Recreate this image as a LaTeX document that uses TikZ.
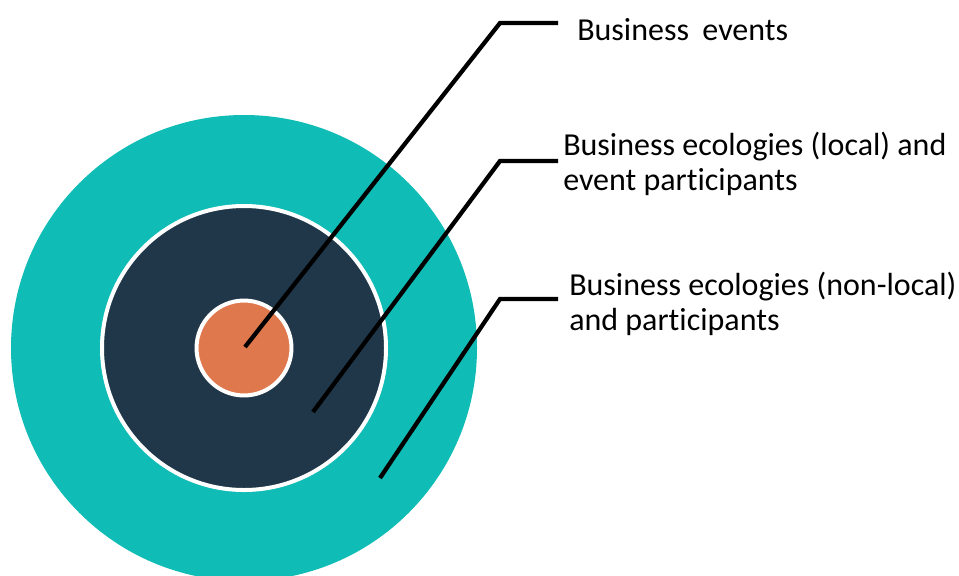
\documentclass[tikz,border=0pt]{standalone}
\usepackage{fontspec}
\setmainfont{Carlito}[Ligatures=NoCommon]
\definecolor{ringteal}{RGB}{15,188,182}
\definecolor{ringnavy}{RGB}{31,55,73}
\definecolor{ringorange}{RGB}{224,120,77}
\tikzset{
  leader/.style={line width=3.2pt, black, line join=miter},
  lbl/.style={anchor=base west, inner sep=0pt, font=\fontsize{24}{26.25}\selectfont, align=left},
}
\begin{document}
\begin{tikzpicture}[x=0.75pt, y=-0.75pt]
\useasboundingbox (0,0) rectangle (959,575);
\clip (0,0) rectangle (959,575);
\coordinate (c) at (244,348);
\fill[ringteal] (c) circle[radius=174.75pt];
\fill[ringnavy, draw=white, line width=3pt] (c) circle[radius=106.5pt];
\fill[ringorange, draw=white, line width=3pt] (c) circle[radius=35.6pt];
% endpoints, elbows, ends
\coordinate (p1) at (245,347);
\coordinate (e1) at (500,23);
\coordinate (h1) at (558,23);
\coordinate (p2) at (313,412);
\coordinate (e2) at (500,161);
\coordinate (h2) at (558,161);
\coordinate (p3) at (380,478);
\coordinate (e3) at (500,299);
\coordinate (h3) at (558,299);
\draw[leader] (p1) -- (e1) -- (h1);
\draw[leader] (p2) -- (e2) -- (h2);
\draw[leader] (p3) -- (e3) -- (h3);
\node[lbl] (t1) at (577,40) {Business\hspace{0.42em}events};
\node[lbl] (t2) at (563,190) {Business ecologies (local) and\\event participants};
\node[lbl] (t3) at (569,330) {Business ecologies (non-local)\\and participants};
\end{tikzpicture}
\end{document}
